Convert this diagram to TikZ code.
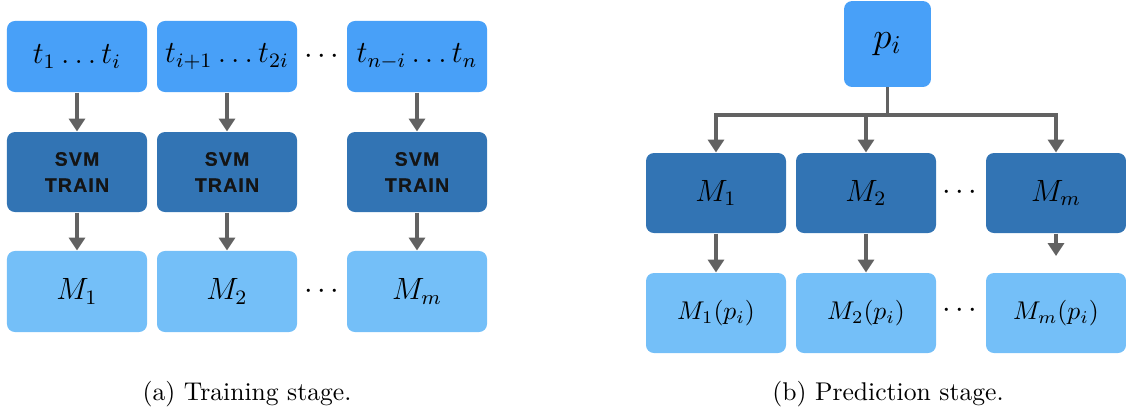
\documentclass[tikz,border=0pt]{standalone}
\usepackage{fontspec}
\usetikzlibrary{arrows.meta}
\newfontfamily\svmfont[LetterSpace=6,FakeBold=0.6]{Liberation Sans}
\definecolor{boxtop}{HTML}{48A0F8}
\definecolor{boxmid}{HTML}{3274B4}
\definecolor{boxbot}{HTML}{74BFF8}
\definecolor{arrgray}{HTML}{626262}
\newcommand{\mydots}{${\cdot}\mkern2.6mu{\cdot}\mkern2.6mu{\cdot}$}
\tikzset{
  box/.style={rounded corners=3.1pt, inner sep=0pt, minimum width=54.6pt, draw=none},
  topbox/.style={box, fill=boxtop, minimum height=27.7pt, font=\fontsize{12}{14}\selectfont},
  midbox/.style={box, fill=boxmid, minimum height=31.2pt, font=\fontsize{12}{14}\selectfont},
  botbox/.style={box, fill=boxbot, minimum height=31.6pt, font=\fontsize{12}{14}\selectfont},
  svmtext/.style={align=center, text=black!92, font=\svmfont\bfseries\fontsize{7.6}{10.2}\selectfont},
  conn/.style={draw=arrgray, line width=1.2pt},
  arr/.style={conn, -{Triangle[width=6.2pt,length=5pt]}},
  dotsnode/.style={inner sep=0pt, font=\fontsize{12}{14}\selectfont},
  capnode/.style={anchor=base, inner sep=0pt, font=\fontsize{10}{12}\selectfont}
}
\begin{document}
\begin{tikzpicture}[x=0.39pt, y=-0.39pt]
\useasboundingbox (0,0) rectangle (1126,414);
% ---------- (a) Training stage ----------
\node[topbox] (t1) at (77,56.5) {$t_1\ldots t_i$};
\node[topbox] (t2) at (227,56.5) {$t_{i+1}\ldots t_{2i}$};
\node[topbox] (t3) at (417,56.5) {$t_{n-i}\ldots t_n$};
\node[midbox, svmtext] (s1) at (77,172) {SVM\\TRAIN};
\node[midbox, svmtext] (s2) at (227,172) {SVM\\TRAIN};
\node[midbox, svmtext] (s3) at (417,172) {SVM\\TRAIN};
\node[botbox] (a1) at (77,291.5) {$M_1$};
\node[botbox] (a2) at (227,291.5) {$M_2$};
\node[botbox] (a3) at (417,291.5) {$M_m$};
\node[dotsnode] (d1) at (322,57) {\mydots};
\node[dotsnode] (d2) at (322,292) {\mydots};
\foreach \i in {1,2,3}{
  \draw[arr] (t\i.south) -- (s\i.north);
  \draw[arr] (s\i.south) -- (a\i.north);
}
\node[capnode] (capa) at (247,400) {(a) Training stage.};
% ---------- (b) Prediction stage ----------
\node[box, fill=boxtop, minimum width=33.9pt, minimum height=33.5pt, font=\fontsize{14.4}{17}\selectfont] (p) at (887.5,44) {$p_i$};
\node[midbox] (m1) at (716,193) {$M_1$};
\node[midbox] (m2) at (866,193) {$M_2$};
\node[midbox] (m3) at (1056,193) {$M_m$};
\node[box, fill=boxbot, minimum height=31.2pt, font=\fontsize{10}{12}\selectfont] (r1) at (716,313) {$M_1(p_i)$};
\node[box, fill=boxbot, minimum height=31.2pt, font=\fontsize{10}{12}\selectfont] (r2) at (866,313) {$M_2(p_i)$};
\node[box, fill=boxbot, minimum height=31.2pt, font=\fontsize{10}{12}\selectfont] (r3) at (1056,313) {$M_m(p_i)$};
\node[dotsnode] (d3) at (960,193) {\mydots};
\node[dotsnode] (d4) at (960,311) {\mydots};
\coordinate (j) at (887.5,115);
\coordinate (mmend) at (1056,256);
\draw[conn] (p.south) -- (j);
\draw[arr] (j) -| (m1.north);
\draw[arr] (j) -| (m2.north);
\draw[arr] (j) -| (m3.north);
\draw[arr] (m1.south) -- (r1.north);
\draw[arr] (m2.south) -- (r2.north);
\draw[arr] (m3.south) -- (mmend);
\node[capnode] (capb) at (888,400) {(b) Prediction stage.};
\end{tikzpicture}
\end{document}
